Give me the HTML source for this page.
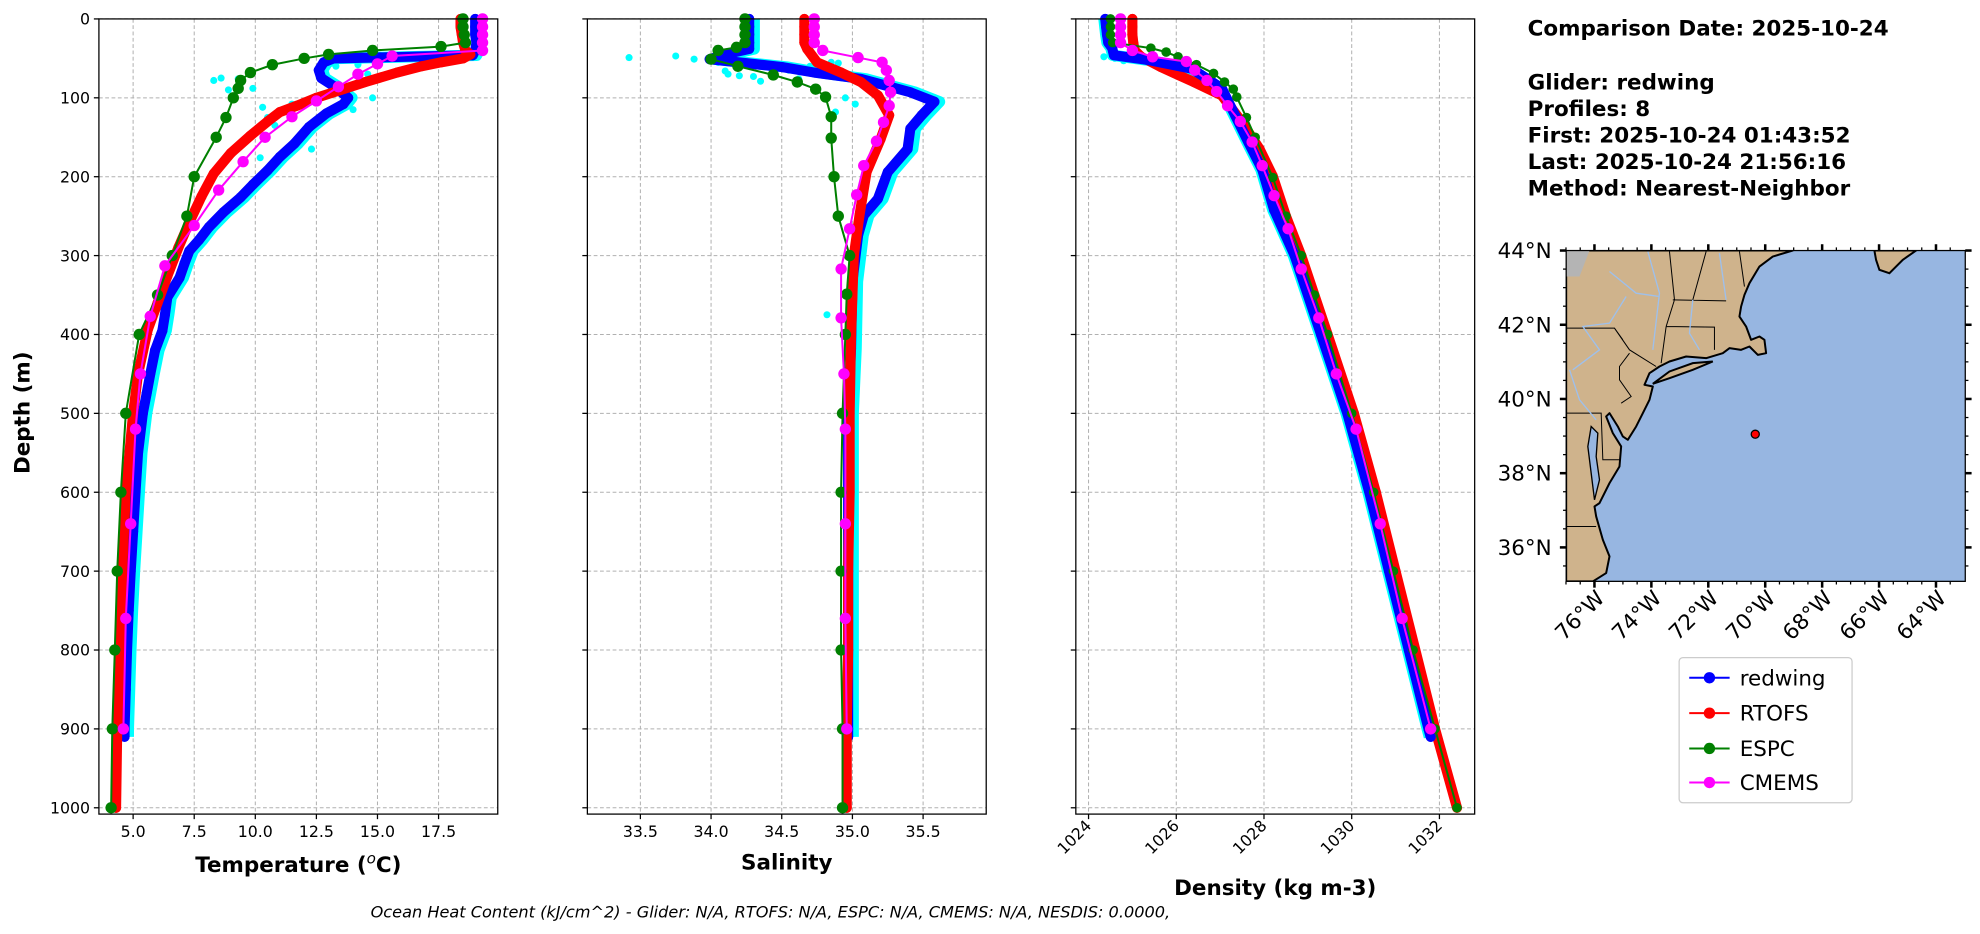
<!DOCTYPE html>
<html><head><meta charset="utf-8"><style>
html,body{margin:0;padding:0;background:#fff}
svg{display:block}
text{font-family:"DejaVu Sans","Liberation Sans",sans-serif}
</style></head><body>
<svg id="fig" width="1980" height="934" viewBox="0 0 1568 740" xmlns="http://www.w3.org/2000/svg">
<g id="layer"></g>
</svg>
<script>
// ---------- data ----------
const depthTicks=[0,100,200,300,400,500,600,700,800,900,1000];
const tempTicks=[5.0,7.5,10.0,12.5,15.0,17.5];
const salTicks=[33.5,34.0,34.5,35.0,35.5];
const denTicks=[1024,1026,1028,1030,1032];

const gT_d=[0,10,20,30,40,46,50,55,65,75,85,100,108,120,137,158,175,192,210,226,245,264,280,294,310,328,353,375,395,420,450,475,500,550,600,650,700,750,800,850,900,910];
const gT_v=[19.0,19.0,19.0,19.05,19.0,18.9,13.2,12.8,12.6,12.7,13.2,13.8,13.6,12.9,12.2,11.6,11.0,10.5,9.9,9.4,8.7,8.1,7.7,7.3,7.1,6.9,6.4,6.3,6.2,5.9,5.7,5.55,5.4,5.2,5.1,5.0,4.9,4.82,4.75,4.7,4.65,4.65];
const rT_d=[0,10,20,30,40,45,50,55,60,68,80,90,100,110,118,130,148,170,196,225,258,290,326,360,394,450,500,550,600,700,800,900,1000];
const rT_v=[18.4,18.4,18.45,18.5,18.6,18.8,18.5,17.6,16.8,15.8,14.5,13.5,12.5,11.7,11.0,10.5,9.8,9.0,8.3,7.8,7.3,6.85,6.4,6.0,5.6,5.2,5.0,4.85,4.7,4.55,4.45,4.35,4.3];
const eT_d=[0,10,20,30,35,40,45,50,58,68,78,88,100,125,150,200,250,300,350,400,500,600,700,800,900,1000];
const eT_v=[18.5,18.5,18.55,18.6,17.6,14.8,13.0,12.0,10.7,9.8,9.4,9.3,9.1,8.8,8.4,7.5,7.2,6.6,6.0,5.25,4.7,4.5,4.35,4.25,4.15,4.1];
const mT_d=[0,10,20,30,40,47,57,70,86,104,124,150,181,217,262,313,377,450,520,640,760,900];
const mT_v=[19.3,19.3,19.3,19.3,19.3,15.6,15.0,14.2,13.4,12.5,11.5,10.4,9.5,8.5,7.5,6.3,5.7,5.3,5.1,4.9,4.7,4.6];
const cT_v=[8.3,8.6,8.9,9.3,9.9,10.3,10.5,11.0,11.5,12.1,10.8,12.3,13.3,14.2,14.6,13.8,10.2,14.8,14.0];
const cT_d=[78,75,90,76,88,112,125,120,108,104,135,165,60,58,70,95,176,100,115];

const gS_d=[0,10,20,30,38,44,51,61,68,76,93,105,122,139,165,194,228,249,274,333,418,500,600,700,800,900,910];
const gS_v=[34.27,34.27,34.27,34.27,34.27,34.12,33.99,34.5,34.73,35.06,35.41,35.58,35.49,35.41,35.39,35.25,35.18,35.08,35.04,35.0,34.99,34.97,34.97,34.97,34.97,34.97,34.97];
const rS_d=[0,10,20,30,38,55,68,80,97,122,152,194,249,300,401,500,600,700,800,900,1000];
const rS_v=[34.66,34.66,34.66,34.66,34.68,34.75,34.92,35.06,35.18,35.26,35.2,35.1,35.05,35.01,34.99,34.98,34.98,34.97,34.97,34.96,34.96];
const eS_d=[0,10,20,30,36,40,51,60,71,80,89,99,124,151,200,250,300,349,400,500,600,700,800,900,1000];
const eS_v=[34.24,34.24,34.24,34.24,34.18,34.05,34.0,34.19,34.44,34.61,34.74,34.81,34.85,34.85,34.87,34.9,34.98,34.96,34.95,34.93,34.92,34.92,34.92,34.93,34.93];
const mS_d=[0,10,20,30,40,49,55,65,78,93,110,131,155,186,223,266,317,379,450,520,640,760,900];
const mS_v=[34.73,34.73,34.73,34.73,34.79,35.04,35.21,35.24,35.26,35.27,35.26,35.22,35.17,35.08,35.03,34.98,34.92,34.92,34.94,34.95,34.95,34.95,34.96];
const cS_v=[33.42,33.75,33.88,34.05,34.1,34.12,34.2,34.3,34.35,34.45,34.55,34.62,34.7,34.85,34.9,34.95,35.02,34.88,34.82];
const cS_d=[49,47,51,55,66,70,72,73,79,72,65,76,60,55,56,100,108,118,375];

const gD_d=[0,10,20,30,37,46,52,63,88,123,157,191,242,300,400,500,600,700,800,900,910];
const gD_v=[1024.38,1024.4,1024.42,1024.45,1024.54,1024.58,1025.35,1026.35,1027.04,1027.35,1027.65,1027.96,1028.23,1028.7,1029.3,1029.9,1030.4,1030.85,1031.3,1031.75,1031.8];
const rD_d=[0,10,20,30,40,48,61,71,80,97,131,165,199,250,300,400,500,600,700,800,900,1000];
const rD_v=[1025.0,1025.0,1025.0,1025.02,1025.05,1025.2,1025.65,1026.04,1026.4,1027.04,1027.5,1027.9,1028.2,1028.5,1028.85,1029.45,1030.05,1030.55,1031.0,1031.45,1031.9,1032.4];
const eD_d=[0,10,20,30,37,42,48,58,69,80,89,99,125,150,201,250,300,350,400,500,600,700,800,900,1000];
const eD_v=[1024.5,1024.5,1024.5,1024.55,1025.42,1025.77,1026.04,1026.46,1026.85,1027.1,1027.3,1027.38,1027.6,1027.8,1028.2,1028.5,1028.85,1029.15,1029.45,1030.0,1030.5,1030.95,1031.4,1031.9,1032.4];
const mD_d=[0,10,20,30,40,48,54,65,78,92,110,130,156,186,224,266,317,379,450,520,640,760,900];
const mD_v=[1024.73,1024.73,1024.73,1024.73,1025.0,1025.46,1026.23,1026.42,1026.7,1026.92,1027.17,1027.46,1027.73,1027.96,1028.23,1028.55,1028.85,1029.25,1029.65,1030.1,1030.65,1031.15,1031.8];
const cD_v=[1024.35,1024.6,1024.8];
const cD_d=[48,50,53];

const latTicks=[44,42,40,38,36];
const lonTicks=[-76,-74,-72,-70,-68,-66,-64];
const gliderLon=[-70.35];
const gliderLat=[39.05];

// ---------- helpers ----------
const NS="http://www.w3.org/2000/svg";
const layer=document.getElementById('layer');
function mk(tag,attrs,parent){const e=document.createElementNS(NS,tag);for(const k in attrs)e.setAttribute(k,attrs[k]);(parent||layer).appendChild(e);return e;}
const yD=d=>15+d*0.625;
const xT=v=>78+(v-3.6)*19.36;
const xS=v=>465+(v-33.125)*112;
const xD=v=>852+(v-1023.71)*34.75;
const TOP=15,BOT=645,W=316;
const panels=[{x0:78,fx:xT,ticks:tempTicks,fmt:v=>v.toFixed(1),name:'temperature'},
              {x0:465,fx:xS,ticks:salTicks,fmt:v=>v.toFixed(1),name:'salinity'},
              {x0:852,fx:xD,ticks:denTicks,fmt:v=>String(v),name:'density',rot:true}];

panels.forEach((p,pi)=>{
  const g=mk('g',{});
  
  
  depthTicks.forEach(d=>{
    const l=mk('line',{x1:p.x0,x2:p.x0+W,y1:yD(d),y2:yD(d),stroke:'#b0b0b0','stroke-width':0.8,'stroke-dasharray':'3,2'},g);
    
    
    const t=mk('line',{x1:p.x0-4,x2:p.x0,y1:yD(d),y2:yD(d),stroke:'#000','stroke-width':1},g);
    
    
    if(pi===0){
      const tx=mk('text',{x:p.x0-7,y:yD(d)+4.5,'font-size':12.5,'text-anchor':'end'},g);
      tx.textContent=d;
      
      
    }
  });
  p.ticks.forEach(v=>{
    const x=p.fx(v);
    const l=mk('line',{x1:x,x2:x,y1:TOP,y2:BOT,stroke:'#b0b0b0','stroke-width':0.8,'stroke-dasharray':'3,2'},g);
    
    
    const t=mk('line',{x1:x,x2:x,y1:BOT,y2:BOT+4,stroke:'#000','stroke-width':1},g);
    
    
    let tx;
    if(p.rot){tx=mk('text',{x:x+3,y:BOT+10,'font-size':12.5,'text-anchor':'end',transform:`rotate(-45 ${x+3} ${BOT+10})`},g);}
    else{tx=mk('text',{x:x,y:BOT+18,'font-size':12.5,'text-anchor':'middle'},g);}
    tx.textContent=p.fmt(v);
    
    
  });
});

function profile(fx,dv,vv,color,lw,mr,name,dense){
  const g=mk('g',{});
  
  
  const pts=vv.map((v,i)=>fx(v).toFixed(1)+','+yD(dv[i]).toFixed(1)).join(' ');
  if(dense){mk('polyline',{points:pts,fill:'none',stroke:color,'stroke-width':mr*2,'stroke-linejoin':'round','stroke-linecap':'round'},g);}
  mk('polyline',{points:pts,fill:'none',stroke:color,'stroke-width':lw,'stroke-linejoin':'round'},g);
  vv.forEach((v,i)=>{mk('circle',{cx:fx(v),cy:yD(dv[i]),r:mr,fill:color},g);});
  return g;
}
function scatter(fx,dv,vv,name){
  const g=mk('g',{});
  
  
  vv.forEach((v,i)=>mk('circle',{cx:fx(v),cy:yD(dv[i]),r:2.8,fill:'#00ffff'},g));
}
function cyanBand(fx,dv,vv,off,name){
  const g=mk('g',{});
  
  
  const pts=vv.map((v,i)=>(fx(v)+off).toFixed(1)+','+yD(dv[i]).toFixed(1)).join(' ');
  mk('polyline',{points:pts,fill:'none',stroke:'#00ffff','stroke-width':9,'stroke-linejoin':'round'},g);
}
cyanBand(xT,gT_d,gT_v,3,'glider-all-profiles-temperature');
scatter(xT,cT_d,cT_v,'glider-scatter-temperature');
profile(xT,gT_d,gT_v,'#0000ff',2,4,'redwing-temperature',true);
profile(xT,rT_d,rT_v,'#ff0000',2,4,'rtofs-temperature',true);
profile(xT,eT_d,eT_v,'#008000',1.6,4.5,'espc-temperature',false);
profile(xT,mT_d,mT_v,'#ff00ff',1.6,4.5,'cmems-temperature',false);
cyanBand(xS,gS_d,gS_v,4,'glider-all-profiles-salinity');
scatter(xS,cS_d,cS_v,'glider-scatter-salinity');
profile(xS,gS_d,gS_v,'#0000ff',2,4,'redwing-salinity',true);
profile(xS,rS_d,rS_v,'#ff0000',2,4,'rtofs-salinity',true);
profile(xS,eS_d,eS_v,'#008000',1.6,4.5,'espc-salinity',false);
profile(xS,mS_d,mS_v,'#ff00ff',1.6,4.5,'cmems-salinity',false);
cyanBand(xD,gD_d,gD_v,-1,'glider-all-profiles-density');
scatter(xD,cD_d,cD_v,'glider-scatter-density');
profile(xD,rD_d,rD_v,'#ff0000',2,4,'rtofs-density',true);
profile(xD,gD_d,gD_v,'#0000ff',2,4,'redwing-density',true);
profile(xD,eD_d,eD_v,'#008000',1.6,3.8,'espc-density',false);
profile(xD,mD_d,mD_v,'#ff00ff',1.6,4.5,'cmems-density',false);

panels.forEach(p=>{
  const r=mk('rect',{x:p.x0,y:TOP,width:W,height:BOT-TOP,fill:'none',stroke:'#000','stroke-width':1});
  
  
});

// ---------- map ----------
const mx=lon=>1262.9+(lon+76)*22.55;
const my=lat=>198.5+(44-lat)*29.4;
const mapG=mk('g',{});


const clip=mk('clipPath',{id:'mapclip'},mapG);
mk('rect',{x:1240.5,y:198.5,width:316.2,height:262.1},clip);
const inner=mk('g',{'clip-path':'url(#mapclip)'},mapG);
mk('rect',{x:1240.5,y:198.5,width:316.2,height:262.1,fill:'#97b6e1'},inner);
const zg=mk('g',{transform:'translate(1240.5,198.5) scale(0.264) translate(-20,-32)'},inner);
const land=mk('path',{d:'M20,32 L700,32 L640,50 L600,80 L570,130 L555,165 L545,200 L540,230 L560,260 L575,300 L600,290 L615,300 L620,340 L595,345 L570,320 L545,330 L510,325 L490,340 L440,355 L380,350 L330,365 L300,380 L270,400 L255,435 L280,440 L270,480 L250,520 L230,560 L205,600 L190,590 L175,560 L150,520 L140,530 L160,580 L185,620 L180,680 L150,730 L120,790 L105,800 L110,830 L130,900 L150,950 L140,1000 L100,1025 L20,1025 Z',fill:'#cfb38c',stroke:'#000','stroke-width':6,'stroke-linejoin':'round'},zg);


mk('path',{d:'M280,432 L330,395 L400,370 L460,365 L400,390 L330,415 Z',fill:'#cfb38c',stroke:'#000','stroke-width':6},zg);
mk('path',{d:'M945,32 L1070,32 L1030,60 L990,100 L960,90 L950,60 Z',fill:'#cfb38c',stroke:'#000','stroke-width':6},zg);
mk('path',{d:'M20,32 L90,32 L60,110 L20,110 Z',fill:'#b4b4b4'},zg);
mk('path',{d:'M95,560 L115,580 L110,650 L120,720 L105,780 L95,700 L85,620 Z',fill:'#97b6e1',stroke:'#000','stroke-width':4},zg);
mk('path',{d:'M20,265 L165,265 L210,330 L290,380 M165,265 L190,300 M210,340 L180,380 L180,420 L215,470 L185,490 M320,260 L465,262 L465,330 M320,260 L305,370 M340,180 L500,183 M330,35 L345,180 L320,260 M440,35 L400,180 M540,35 L555,140 M20,520 L125,520 L130,660 L180,660 M20,860 L110,860',fill:'none',stroke:'#000','stroke-width':3},zg);
mk('path',{d:'M265,35 L300,160 L280,330 M150,95 L230,160 L300,170 M200,170 L150,250 L70,260 L120,330 L40,390 M400,180 L390,280 L420,330 M480,40 L500,180 M30,390 L60,480 L110,540',fill:'none',stroke:'#9ec0ec','stroke-width':4},zg);
gliderLon.forEach((lon,i)=>{
  const c=mk('circle',{cx:mx(lon),cy:my(gliderLat[i]),r:3.2,fill:'#ff0000',stroke:'#000','stroke-width':1},mapG);
  
  
});
mk('rect',{x:1240.5,y:198.5,width:316.2,height:262.1,fill:'none',stroke:'#000','stroke-width':1},mapG);
for(let lat=35.5;lat<=44.01;lat+=0.5){
  const maj=latTicks.includes(lat);const L=maj?5:2.5;
  mk('line',{x1:1240.5-L,x2:1240.5,y1:my(lat),y2:my(lat),stroke:'#000','stroke-width':maj?2:1},mapG);
  mk('line',{x1:1556.7,x2:1556.7+L,y1:my(lat),y2:my(lat),stroke:'#000','stroke-width':maj?2:1},mapG);
}
for(let lon=-77;lon<=-63.01;lon+=0.5){
  const maj=lonTicks.includes(lon);const L=maj?5:2.5;
  mk('line',{x1:mx(lon),x2:mx(lon),y1:198.5-L,y2:198.5,stroke:'#000','stroke-width':maj?2:1},mapG);
  mk('line',{x1:mx(lon),x2:mx(lon),y1:460.6,y2:460.6+L,stroke:'#000','stroke-width':maj?2:1},mapG);
}
latTicks.forEach(lat=>{
  const t=mk('text',{x:1229,y:my(lat)+6,'font-size':17,'text-anchor':'end'},mapG);
  t.textContent=lat+'°N';
  
  
});
lonTicks.forEach(lon=>{
  const x=mx(lon)+9,y=475;
  const t=mk('text',{x:x,y:y,'font-size':17,'text-anchor':'end',transform:`rotate(-45 ${x} ${y})`},mapG);
  t.textContent=(-lon)+'°W';
  
  
});
</script>

<svg style="position:absolute;left:0;top:0" width="1980" height="934" viewBox="0 0 1568 740" xmlns="http://www.w3.org/2000/svg">
<text x="23" y="327" font-size="17" font-weight="bold" text-anchor="middle" transform="rotate(-90 23 327)">Depth (m)</text>
<text x="236" y="691" font-size="17" font-weight="bold" text-anchor="middle">Temperature (<tspan font-style="italic" font-weight="normal" font-size="12" dy="-7">o</tspan><tspan dy="7">C)</tspan></text>
<text x="623" y="689" font-size="17" font-weight="bold" text-anchor="middle">Salinity</text>
<text x="1010" y="709" font-size="17" font-weight="bold" text-anchor="middle">Density (kg m-3)</text>
<text x="610" y="727" font-size="12.8" font-style="italic" text-anchor="middle">Ocean Heat Content (kJ/cm^2) - Glider: N/A,  RTOFS: N/A,  ESPC: N/A,  CMEMS: N/A,  NESDIS: 0.0000,</text>
<g font-size="17" font-weight="bold">
<text x="1210" y="28">Comparison Date: 2025-10-24</text>
<text x="1210" y="71">Glider: redwing</text>
<text x="1210" y="92">Profiles: 8</text>
<text x="1210" y="113">First: 2025-10-24 01:43:52</text>
<text x="1210" y="134">Last: 2025-10-24 21:56:16</text>
<text x="1210" y="155">Method: Nearest-Neighbor</text>
</g>
<g>
<rect x="1330" y="521" width="137" height="115" rx="3" fill="#fff" stroke="#cccccc" stroke-width="1"/>
<g><line x1="1338" x2="1370" y1="537" y2="537" stroke="#0000ff" stroke-width="1.6"/><circle cx="1354" cy="537" r="4.5" fill="#0000ff"/><text x="1378" y="543" font-size="17">redwing</text></g>
<g><line x1="1338" x2="1370" y1="565" y2="565" stroke="#ff0000" stroke-width="1.6"/><circle cx="1354" cy="565" r="4.5" fill="#ff0000"/><text x="1378" y="571" font-size="17">RTOFS</text></g>
<g><line x1="1338" x2="1370" y1="593" y2="593" stroke="#008000" stroke-width="1.6"/><circle cx="1354" cy="593" r="4.5" fill="#008000"/><text x="1378" y="599" font-size="17">ESPC</text></g>
<g><line x1="1338" x2="1370" y1="620" y2="620" stroke="#ff00ff" stroke-width="1.6"/><circle cx="1354" cy="620" r="4.5" fill="#ff00ff"/><text x="1378" y="626" font-size="17">CMEMS</text></g>
</g>
</svg>
</body></html>
